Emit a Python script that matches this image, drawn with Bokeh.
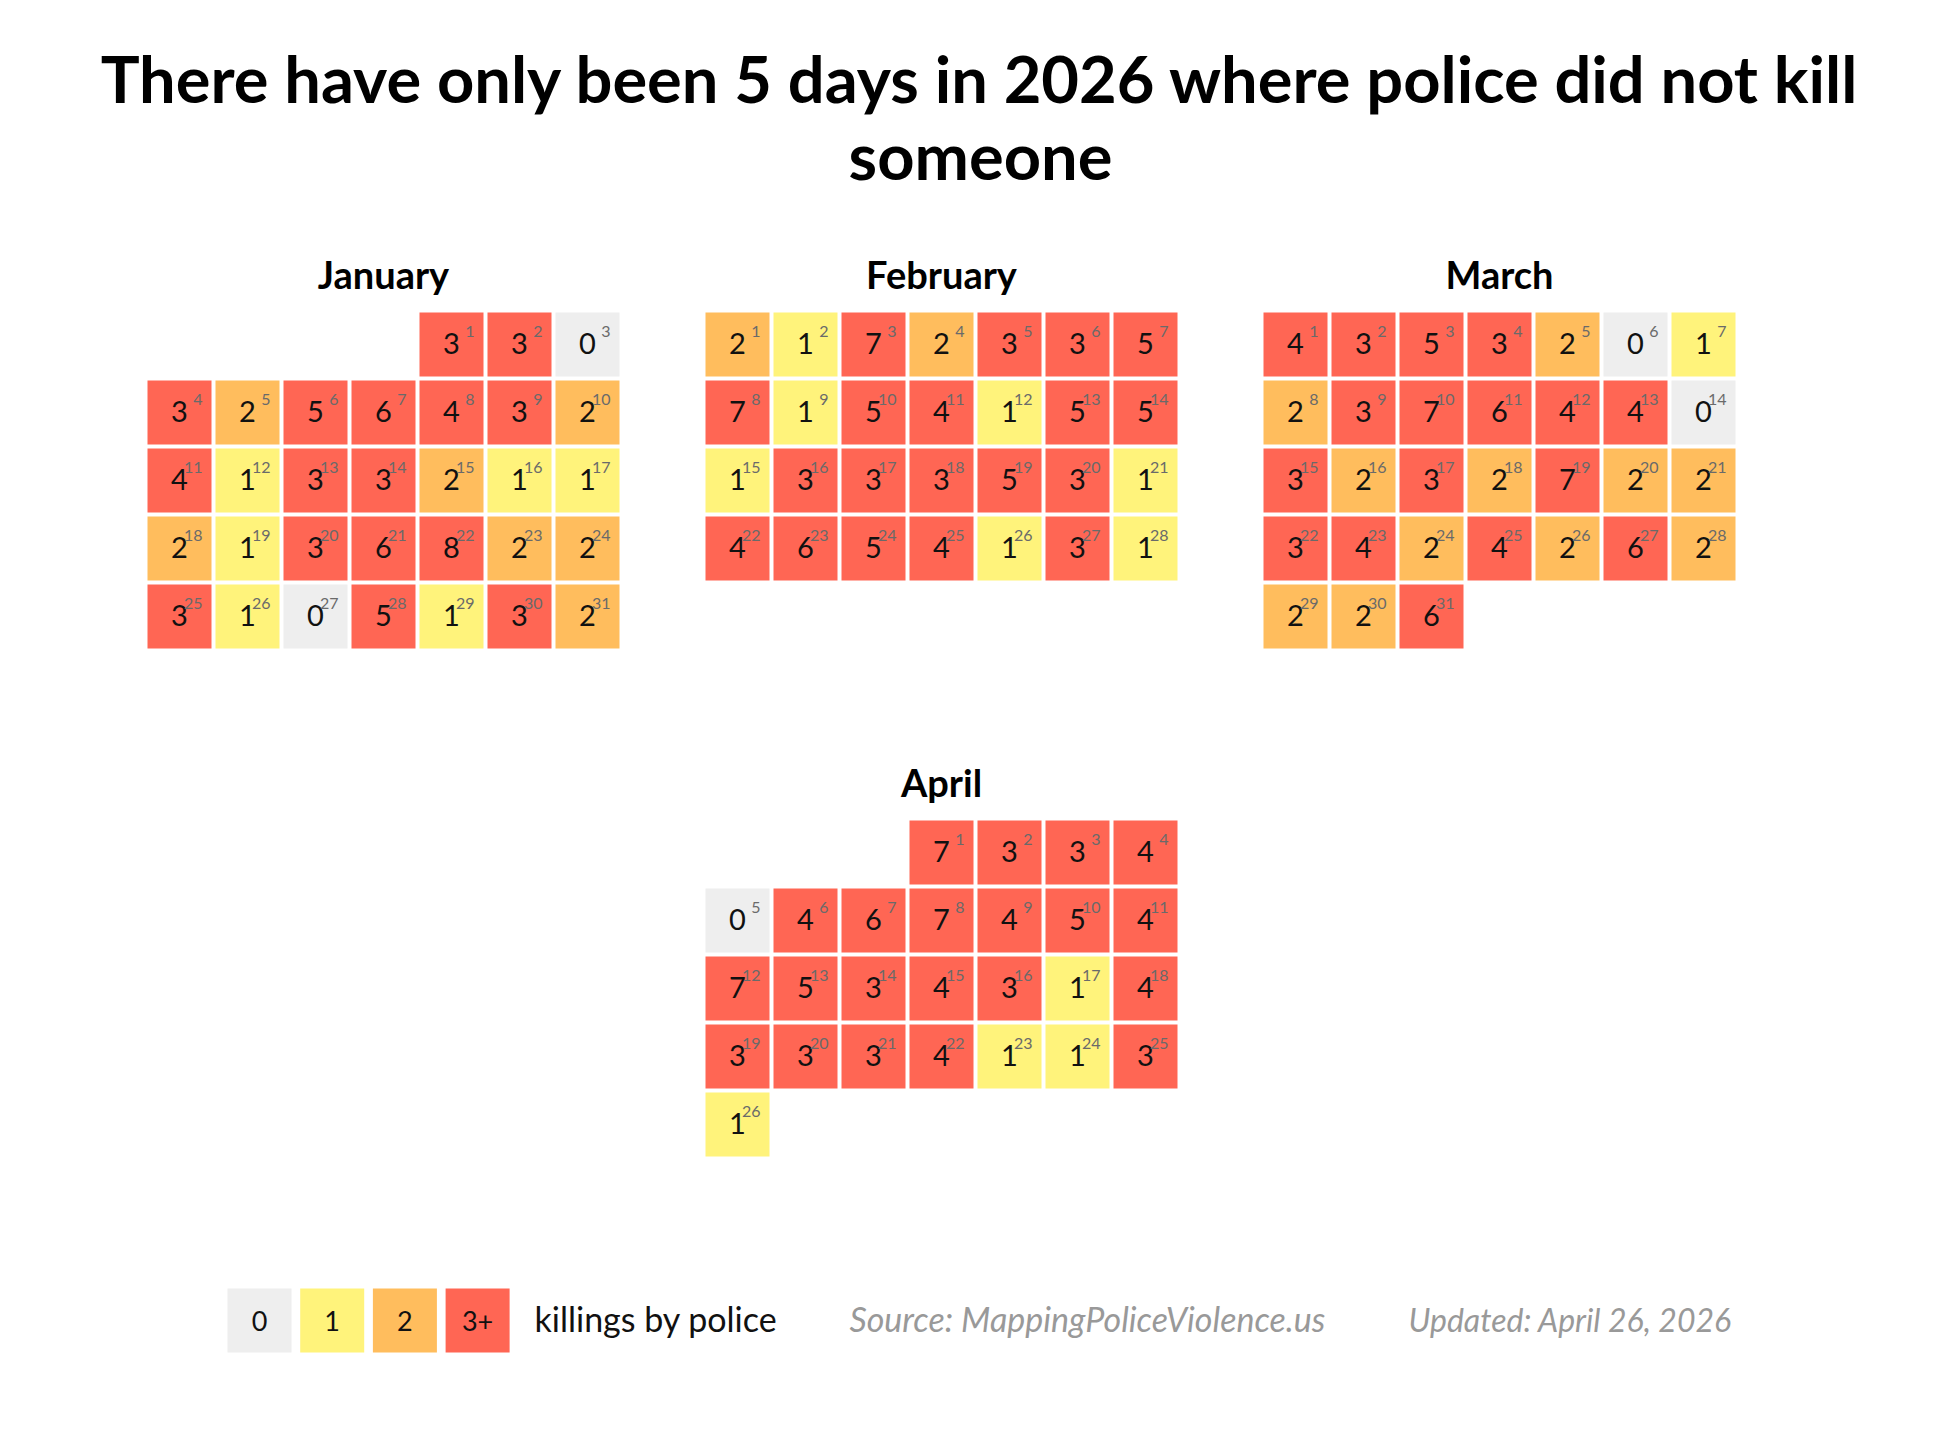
import datetime
from bokeh.plotting import figure
from bokeh.models import ColumnDataSource, Range1d
from bokeh.core.properties import value
from bokeh.embed import file_html
from bokeh.resources import INLINE

# ---------------- data ----------------
title_lines = ["There have only been 5 days in 2026 where police did not kill", "someone"]
year = 2026
month_names = ["January", "February", "March", "April"]
month_numbers = [1, 2, 3, 4]

jan_counts = [3, 3, 0,
              3, 2, 5, 6, 4, 3, 2,
              4, 1, 3, 3, 2, 1, 1,
              2, 1, 3, 6, 8, 2, 2,
              3, 1, 0, 5, 1, 3, 2]
feb_counts = [2, 1, 7, 2, 3, 3, 5,
              7, 1, 5, 4, 1, 5, 5,
              1, 3, 3, 3, 5, 3, 1,
              4, 6, 5, 4, 1, 3, 1]
mar_counts = [4, 3, 5, 3, 2, 0, 1,
              2, 3, 7, 6, 4, 4, 0,
              3, 2, 3, 2, 7, 2, 2,
              3, 4, 2, 4, 2, 6, 2,
              2, 2, 6]
apr_counts = [7, 3, 3, 4,
              0, 4, 6, 7, 4, 5, 4,
              7, 5, 3, 4, 3, 1, 4,
              3, 3, 3, 4, 1, 1, 3,
              1]

legend_labels = ["0", "1", "2", "3+"]
legend_caption = "killings by police"
source_text = "Source: MappingPoliceViolence.us"
updated_text = "Updated: April 26, 2026"

palette = ["#eeeeee", "#fff37b", "#ffbd5d", "#ff6654"]

# ---------------- layout ----------------
W, H = 1944, 1422
CELL, PITCH = 64, 68
grid_cols_x = [147, 705, 1263]
grid_rows_y = [312, 820]
month_slots = [(0, 0), (1, 0), (2, 0), (1, 1)]
FONT = "Lato"
BL = 0.4  # baseline correction factor (fraction of font size)


def base(y, size):
    return y - BL * size


CNT_FS, DAY_FS, MONTH_FS, TITLE_FS = 29, 16, 38, 65

all_counts = [jan_counts, feb_counts, mar_counts, apr_counts]

cx, cy, cols, cnt_txt, cnt_y, day_txt, day_x, day_y = [], [], [], [], [], [], [], []
mt_x, mt_y, mt_txt = [], [], []
for name, mnum, counts, (sc, sr) in zip(month_names, month_numbers, all_counts, month_slots):
    ox, oy = grid_cols_x[sc], grid_rows_y[sr]
    first = (datetime.date(year, mnum, 1).weekday() + 1) % 7  # Sunday-start week
    for i, c in enumerate(counts):
        pos = first + i
        col, row = pos % 7, pos // 7
        left = ox + col * PITCH
        top = oy + row * PITCH
        cx.append(left + CELL / 2)
        cy.append(top + CELL / 2)
        cols.append(palette[min(c, 3)])
        cnt_txt.append(str(c))
        cnt_y.append(base(top + 43, CNT_FS))
        day_txt.append(str(i + 1))
        day_x.append(left + 55)
        day_y.append(base(top + 25, DAY_FS))
    mt_x.append(ox + (7 * PITCH - (PITCH - CELL)) / 2)
    mt_y.append(base(oy - 23, MONTH_FS))
    mt_txt.append(name)

src = ColumnDataSource(dict(cx=cx, cy=cy, color=cols, cnt=cnt_txt, cnt_y=cnt_y,
                            day=day_txt, day_x=day_x, day_y=day_y))

p = figure(width=W, height=H, x_range=Range1d(0, W), y_range=Range1d(H, 0),
           output_backend="svg", toolbar_location=None, min_border=0,
           x_axis_type=None, y_axis_type=None, outline_line_color=None,
           background_fill_color="white", border_fill_color="white")
p.grid.visible = False

p.rect(x="cx", y="cy", width=CELL, height=CELL, fill_color="color", line_color=None, source=src)
p.text(x="cx", y="cnt_y", text="cnt", text_align="center", text_baseline="alphabetic",
       text_font=value(FONT), text_font_size=f"{CNT_FS}px", text_color="#111111", source=src)
p.text(x="day_x", y="day_y", text="day", text_align="right", text_baseline="alphabetic",
       text_font=value(FONT), text_font_size=f"{DAY_FS}px", text_color="#6a6a6a", source=src)

# month titles
p.text(x=mt_x, y=mt_y, text=mt_txt, text_align="center", text_baseline="alphabetic",
       text_font=value(FONT), text_font_style="bold", text_font_size=f"{MONTH_FS}px",
       text_color="#000000")

# main title
p.text(x=[980, 980], y=[base(103, TITLE_FS), base(180, TITLE_FS)], text=title_lines,
       text_align="center", text_baseline="alphabetic",
       text_font=value(FONT), text_font_style="bold", text_font_size=f"{TITLE_FS}px",
       text_color="#000000")

# legend
leg_x0, leg_pitch, leg_top = 227, 72.7, 1288
lx = [leg_x0 + i * leg_pitch + CELL / 2 for i in range(len(legend_labels))]
ly = [leg_top + CELL / 2] * len(legend_labels)
p.rect(x=lx, y=ly, width=CELL, height=CELL, fill_color=palette, line_color=None)
p.text(x=lx, y=ly, text=legend_labels, text_align="center", text_baseline="middle",
       text_font=value(FONT), text_font_size="27px", text_color="#111111")
p.text(x=[534], y=[base(1332, 34)], text=[legend_caption], text_align="left",
       text_baseline="alphabetic", text_font=value(FONT), text_font_size="34px",
       text_color="#111111")
p.text(x=[849], y=[base(1332, 34)], text=[source_text], text_align="left",
       text_baseline="alphabetic", text_font=value(FONT), text_font_style="italic",
       text_font_size="34px", text_color="#999999")
p.text(x=[1408], y=[base(1332, 32)], text=[updated_text], text_align="left",
       text_baseline="alphabetic", text_font=value(FONT), text_font_style="italic",
       text_font_size="32px", text_color="#999999")

open("out.html", "w").write(file_html(p, INLINE))
